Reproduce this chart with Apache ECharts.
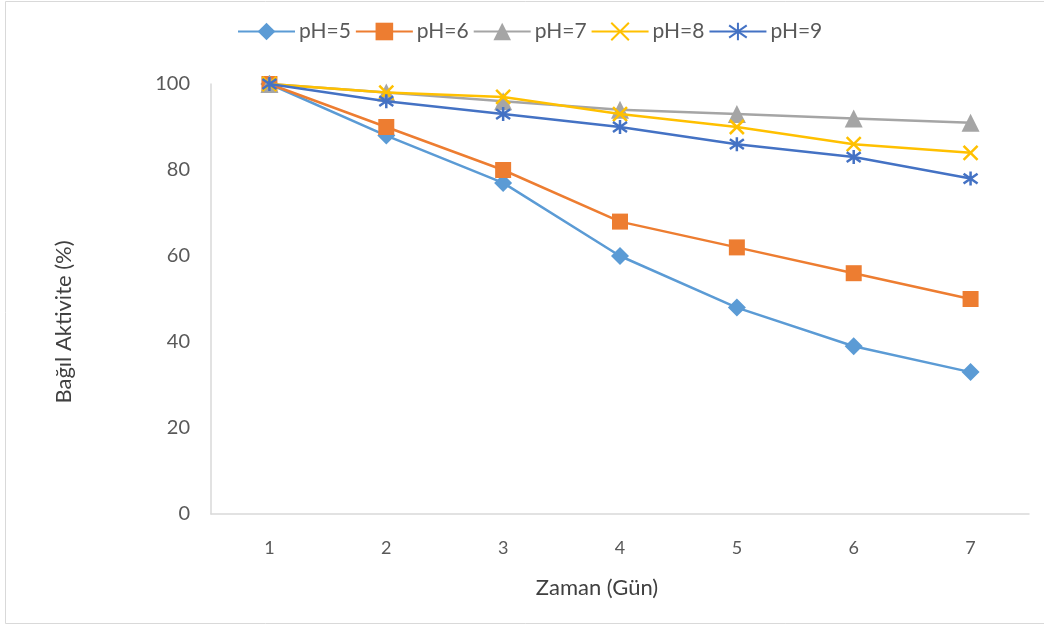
<!DOCTYPE html>
<html>
<head>
<meta charset="utf-8">
<script src="https://cdn.jsdelivr.net/npm/echarts@6/dist/echarts.min.js"></script>
<style>
  html, body { margin: 0; padding: 0; background: #fff; }
  #chart { width: 1044px; height: 628px; }
</style>
</head>
<body>
<div id="chart"></div>
<script>
// Days on the x axis
const days = ['1', '2', '3', '4', '5', '6', '7'];

// Relative activity (%) per pH
const ph5 = [100, 88, 77, 60, 48, 39, 33];
const ph6 = [100, 90, 80, 68, 62, 56, 50];
const ph7 = [100, 98, 96, 94, 93, 92, 91];
const ph8 = [100, 98, 97, 93, 90, 86, 84];
const ph9 = [100, 96, 93, 90, 86, 83, 78];

const seriesNames = ['pH=5', 'pH=6', 'pH=7', 'pH=8', 'pH=9'];
const yTicks = [0, 20, 40, 60, 80, 100];

const FONT = 'Lato, "Open Sans", sans-serif';
const crossPath = 'path://M0,0L10,10M10,0L0,10';
const starPath = 'path://M5,0L5,10M0.8,1.5L9.2,8.5M9.2,1.5L0.8,8.5';

const styles = [
  { color: '#5B9BD5', symbol: 'diamond', size: 18, stroke: false },
  { color: '#ED7D31', symbol: 'rect', size: 16, stroke: false },
  { color: '#A5A5A5', symbol: 'triangle', size: 18, stroke: false },
  { color: '#FFC000', symbol: crossPath, size: 14, stroke: true },
  { color: '#4472C4', symbol: starPath, size: 14, stroke: true }
];
const values = [ph5, ph6, ph7, ph8, ph9];

const series = values.map((data, i) => {
  const s = styles[i];
  return {
    name: seriesNames[i],
    type: 'line',
    data: data,
    symbol: s.symbol,
    symbolSize: s.size,
    showAllSymbol: true,
    lineStyle: { color: s.color, width: 2.5 },
    itemStyle: s.stroke
      ? { color: s.color, borderColor: s.color, borderWidth: 2.5 }
      : { color: s.color, borderWidth: 0 },
    emphasis: { disabled: true },
    z: 2 + i
  };
});

const chart = echarts.init(document.getElementById('chart'), null, { renderer: 'canvas' });
chart.setOption({
  animation: false,
  backgroundColor: '#fff',
  textStyle: { fontFamily: FONT },
  graphic: [{
    type: 'rect',
    shape: { x: 5.5, y: 1.5, width: 1060, height: 622 },
    style: { fill: 'none', stroke: '#d9d9d9', lineWidth: 1 },
    silent: true,
    z: -10
  }],
  legend: {
    top: 16,
    left: 232,
    itemWidth: 57,
    itemHeight: 22,
    itemGap: 4,
    textStyle: { fontFamily: FONT, fontSize: 21, color: '#595959', padding: [0, 0, 0, -1] },
    data: seriesNames
  },
  grid: { left: 211, right: 15, top: 84, bottom: 114, containLabel: false },
  xAxis: {
    type: 'category',
    data: days,
    boundaryGap: true,
    name: 'Zaman (Gün)',
    nameLocation: 'middle',
    nameGap: 63,
    nameTextStyle: { fontFamily: FONT, fontSize: 22, color: '#404040', padding: [0, 46, 0, 0] },
    axisLine: { lineStyle: { color: '#d9d9d9', width: 1.5 } },
    axisTick: { show: false },
    axisLabel: { fontFamily: FONT, fontSize: 18, color: '#595959', margin: 25 },
    splitLine: { show: false }
  },
  yAxis: {
    type: 'value',
    min: yTicks[0],
    max: yTicks[yTicks.length - 1],
    interval: yTicks[1] - yTicks[0],
    name: 'Bağıl Aktivite (%)',
    nameLocation: 'middle',
    nameGap: 136,
    nameRotate: 90,
    nameTextStyle: { fontFamily: FONT, fontSize: 22, color: '#404040', padding: [0, 46, 0, 0] },
    axisLine: { show: true, lineStyle: { color: '#d9d9d9', width: 1.5 } },
    axisTick: { show: false },
    axisLabel: { fontFamily: FONT, fontSize: 20, color: '#595959', margin: 21 },
    splitLine: { show: false }
  },
  series: series
});
</script>
</body>
</html>
